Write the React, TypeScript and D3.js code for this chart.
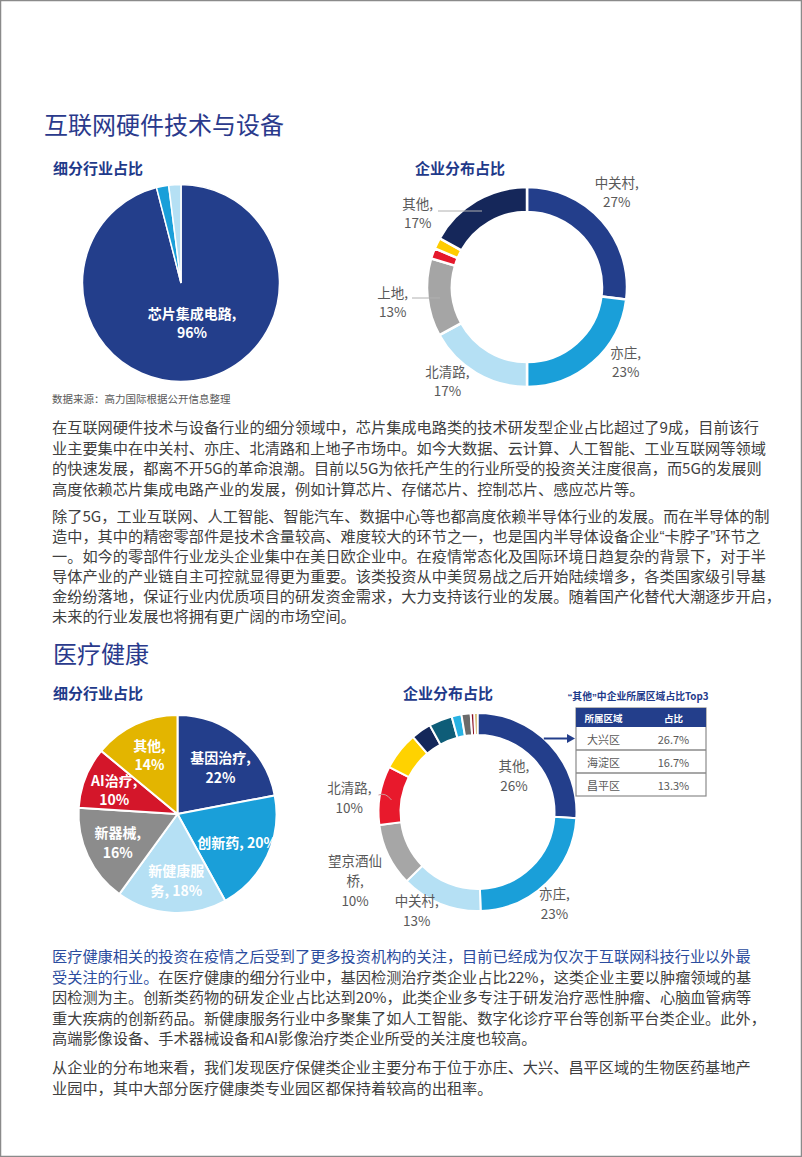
import React, { useEffect, useRef } from 'react';
import * as d3 from 'd3';

const FONT = '"Noto Sans CJK SC", "Noto Sans", sans-serif';
const QUOTE_FONT = '"Liberation Sans", sans-serif';

// 互联网硬件技术与设备 - 细分行业占比
const hwSegNames = ['芯片集成电路', '其他A', '其他B'];
const hwSegValues = [96, 2, 2];
const hwSegPct = ['96%', '', ''];

// 互联网硬件技术与设备 - 企业分布占比
const hwAreaNames = ['中关村', '亦庄', '北清路', '上地', '其他C', '其他D', '其他'];
const hwAreaValues = [27, 23, 17, 12.6, 1.7, 1.8, 16.9];
const hwAreaPct = ['27%', '23%', '17%', '13%', '', '', '17%'];

// 医疗健康 - 细分行业占比
const medSegNames = ['基因治疗', '创新药', '新健康服务', '新器械', 'AI治疗', '其他'];
const medSegValues = [22, 20, 18, 16, 10, 14];
const medSegPct = ['22%', '20%', '18%', '16%', '10%', '14%'];

// 医疗健康 - 企业分布占比
const medAreaNames = ['其他', '亦庄', '中关村', '望京酒仙桥', '北清路', 'a', 'b', 'c', 'd', 'e', 'f', 'g'];
const medAreaValues = [26, 23.5, 13.2, 10.2, 9.6, 6.2, 3.3, 3.8, 1.6, 1.5, 0.6, 0.5];
const medAreaPct = ['26%', '23%', '13%', '10%', '10%', '', '', '', '', '', '', ''];

// "其他"中企业所属区域占比Top3
const top3Header = ['所属区域', '占比'];
const top3Names = ['大兴区', '海淀区', '昌平区'];
const top3Values = ['26.7%', '16.7%', '13.3%'];

const para1 = [
  '在互联网硬件技术与设备行业的细分领域中，芯片集成电路类的技术研发型企业占比超过了9成，目前该行',
  '业主要集中在中关村、亦庄、北清路和上地子市场中。如今大数据、云计算、人工智能、工业互联网等领域',
  '的快速发展，都离不开5G的革命浪潮。目前以5G为依托产生的行业所受的投资关注度很高，而5G的发展则',
  '高度依赖芯片集成电路产业的发展，例如计算芯片、存储芯片、控制芯片、感应芯片等。',
];
const para2 = [
  '除了5G，工业互联网、人工智能、智能汽车、数据中心等也都高度依赖半导体行业的发展。而在半导体的制',
  '造中，其中的精密零部件是技术含量较高、难度较大的环节之一，也是国内半导体设备企业“卡脖子”环节之',
  '一。如今的零部件行业龙头企业集中在美日欧企业中。在疫情常态化及国际环境日趋复杂的背景下，对于半',
  '导体产业的产业链自主可控就显得更为重要。该类投资从中美贸易战之后开始陆续增多，各类国家级引导基',
  '金纷纷落地，保证行业内优质项目的研发资金需求，大力支持该行业的发展。随着国产化替代大潮逐步开启，',
  '未来的行业发展也将拥有更广阔的市场空间。',
];
// [blue part, gray part]
const para3: [string, string][] = [
  ['医疗健康相关的投资在疫情之后受到了更多投资机构的关注，目前已经成为仅次于互联网科技行业以外最', ''],
  ['受关注的行业。', '在医疗健康的细分行业中，基因检测治疗类企业占比22%，这类企业主要以肿瘤领域的基'],
  ['', '因检测为主。创新类药物的研发企业占比达到20%，此类企业多专注于研发治疗恶性肿瘤、心脑血管病等'],
  ['', '重大疾病的创新药品。新健康服务行业中多聚集了如人工智能、数字化诊疗平台等创新平台类企业。此外，'],
  ['', '高端影像设备、手术器械设备和AI影像治疗类企业所受的关注度也较高。'],
];
const para4 = [
  '从企业的分布地来看，我们发现医疗保健类企业主要分布于位于亦庄、大兴、昌平区域的生物医药基地产',
  '业园中，其中大部分医疗健康类专业园区都保持着较高的出租率。',
];

const DARK = '#233e8b';
const MID = '#1a9fd9';
const LIGHT = '#b5e0f4';
const TITLE = '#2a3a8c';
const TEXT = '#404040';
const LABEL = '#595959';
const BODY_SIZE = 15.2;

type G = d3.Selection<SVGGElement, unknown, null, undefined>;
type T = d3.Selection<SVGTextElement, unknown, null, undefined>;

// curly quotes are narrow in the original, so draw them with a latin font
function addRich(t: T, str: string, fill?: string) {
  str.split(/([“”])/).forEach(part => {
    if (!part) return;
    const s = t.append('tspan').text(part);
    if (fill) s.attr('fill', fill);
    if (part === '“' || part === '”') s.attr('font-family', QUOTE_FONT);
  });
}

function drawRing(
  root: G, values: number[], colors: string[], cx: number, cy: number,
  inner: number, outer: number, gap: number,
) {
  const pie = d3.pie<number>().sort(null).value(d => d);
  const arcs = pie(values);
  const arc = d3.arc<d3.PieArcDatum<number>>().innerRadius(inner).outerRadius(outer);
  const g = root.append('g').attr('transform', `translate(${cx},${cy})`);
  g.selectAll('path')
    .data(arcs)
    .join('path')
    .attr('d', d => arc(d) as string)
    .attr('fill', (d, i) => colors[i])
    .attr('stroke', '#fff')
    .attr('stroke-width', gap)
    .attr('stroke-linejoin', 'miter');
  return { g, arcs };
}

function multiLine(
  g: G, lines: string[], x: number, y: number, lh: number,
  size: number, fill: string, weight: number,
) {
  const t = g.append('text')
    .attr('font-family', FONT)
    .attr('font-size', size)
    .attr('font-weight', weight)
    .attr('fill', fill)
    .attr('text-anchor', 'middle')
    .attr('dominant-baseline', 'central');
  const y0 = y - ((lines.length - 1) * lh) / 2;
  lines.forEach((l, i) => {
    t.append('tspan').attr('x', x).attr('y', y0 + i * lh).text(l);
  });
}

function ringLabels(
  g: G, arcs: d3.PieArcDatum<number>[], names: string[], pct: string[],
  r: number, nudge: ([number, number] | null)[], wraps: Record<string, string[]>,
  size: number, lh: number, fill: string, weight: number,
) {
  const la = d3.arc<d3.PieArcDatum<number>>().innerRadius(r).outerRadius(r);
  arcs.forEach((a, i) => {
    const n = nudge[i];
    if (!pct[i] || !n) return;
    const [x, y] = la.centroid(a);
    const lines = wraps[names[i]] || [names[i] + ',', pct[i]];
    multiLine(g, lines, x + n[0], y + n[1], lh, size, fill, weight);
  });
}

function paragraph(svg: G, lines: string[], x: number, y: number, lh: number) {
  lines.forEach((l, i) => {
    const t = svg.append('text')
      .attr('x', x)
      .attr('y', y + i * lh)
      .attr('font-family', FONT)
      .attr('font-size', BODY_SIZE)
      .attr('fill', TEXT)
      .attr('dominant-baseline', 'central') as unknown as T;
    addRich(t, l);
  });
}

function heading(svg: G, txt: string, x: number, y: number, size: number, weight: number, fill: string) {
  svg.append('text')
    .attr('x', x)
    .attr('y', y)
    .attr('font-family', FONT)
    .attr('font-size', size)
    .attr('font-weight', weight)
    .attr('fill', fill)
    .attr('dominant-baseline', 'central')
    .text(txt);
}

export default function App() {
  const ref = useRef<SVGSVGElement>(null);

  useEffect(() => {
    const root = d3.select(ref.current);
    root.selectAll('*').remove();
    const svg = root.append('g') as unknown as G;

    svg.append('rect')
      .attr('x', 0.5).attr('y', 0.5)
      .attr('width', 801).attr('height', 1156)
      .attr('fill', '#fff')
      .attr('stroke', '#8a8a8a')
      .attr('stroke-width', 1.5);

    // ---- section 1
    heading(svg, '互联网硬件技术与设备', 44, 123, 24, 400, TITLE);
    heading(svg, '细分行业占比', 53, 167, 15, 700, '#1f3a8a');
    heading(svg, '企业分布占比', 415, 167, 15, 700, '#1f3a8a');

    const p1 = drawRing(svg, hwSegValues, [DARK, MID, LIGHT], 181, 283, 0, 98.5, 1.5);
    ringLabels(p1.g, p1.arcs, hwSegNames, hwSegPct, 40, [[6, 0], null, null], {},
      14, 19, '#fff', 700);

    heading(svg, '数据来源：高力国际根据公开信息整理', 52, 398, 10.5, 400, LABEL);

    const d1 = drawRing(svg, hwAreaValues,
      [DARK, MID, LIGHT, '#a5a5a5', '#e5192c', '#ffcc00', '#15275a'],
      527, 287, 75, 100, 2.5);
    // leader lines for 其他 and 上地
    d1.g.append('line').attr('x1', -89).attr('y1', -76).attr('x2', -45).attr('y2', -76)
      .attr('stroke', '#b0b0b0').attr('stroke-width', 1);
    d1.g.append('line').attr('x1', -115).attr('y1', 11).attr('x2', -87).attr('y2', 11)
      .attr('stroke', '#b0b0b0').attr('stroke-width', 1);
    ringLabels(d1.g, d1.arcs, hwAreaNames, hwAreaPct, 125,
      [[-4, -13], [16, -19], [-16, -14], [-10, 1], null, null, [-46, 33]], {},
      13.5, 19, LABEL, 400);

    // text block 1
    paragraph(svg, para1, 52, 426, 20.5);
    paragraph(svg, para2, 52, 514.5, 20);

    // ---- section 2
    heading(svg, '医疗健康', 53, 652, 24, 400, TITLE);
    heading(svg, '细分行业占比', 53, 692, 15, 700, '#1f3a8a');
    heading(svg, '企业分布占比', 403, 692, 15, 700, '#1f3a8a');

    const p2 = drawRing(svg, medSegValues,
      [DARK, MID, LIGHT, '#8c8c8c', '#d4162a', '#e3b500'], 177.5, 814, 0, 99, 2);
    ringLabels(p2.g, p2.arcs, medSegNames, medSegPct, 66,
      [[1, 4], [0, 0], [3, 0], [0, 0], [-2, 0], [0, 0]],
      { '创新药': ['创新药, 20%'], '新健康服务': ['新健康服', '务, 18%'] },
      14, 19.5, '#fff', 700);

    const d2 = drawRing(svg, medAreaValues,
      [DARK, MID, LIGHT, '#a6a6a6', '#e8192c', '#ffd200', '#14275a', '#0e5d78',
        '#27b2e3', '#6b6b6b', '#8c1022', '#b88a10'],
      477.5, 812, 77, 99, 2);
    // 其他 label sits inside the hole
    ringLabels(d2.g, d2.arcs, medAreaNames, medAreaPct, 50, [[0, -3]], {}, 13.5, 20, LABEL, 400);
    ringLabels(d2.g, d2.arcs, medAreaNames, medAreaPct, 125,
      [null, [-10, 1], [-14, -18], [-10, 13], [-5, 6]],
      { '望京酒仙桥': ['望京酒仙', '桥,', '10%'] },
      13.5, 20, LABEL, 400);
    d2.g.append('path').attr('d', 'M-99,-17 Q-92,-20 -86,-12')
      .attr('fill', 'none').attr('stroke', '#c99').attr('stroke-width', 1);

    // top3 table
    const tx = 576;
    const tw = 130;
    const hy = 708;
    const hh = 19;
    const rh = 23;
    const col = d3.scaleBand<number>().domain([0, 1]).range([tx, tx + tw]);
    const rowY = d3.scaleBand<number>().domain(top3Names.map((d, i) => i)).range([hy + hh, hy + hh + rh * 3]);

    const tt = svg.append('text')
      .attr('x', tx + tw / 2 - 3).attr('y', 696)
      .attr('text-anchor', 'middle').attr('dominant-baseline', 'central')
      .attr('font-family', FONT).attr('font-size', 9.8).attr('font-weight', 700)
      .attr('fill', '#1f3a8a') as unknown as T;
    addRich(tt, '“其他”中企业所属区域占比Top3');

    svg.append('rect').attr('x', tx).attr('y', hy).attr('width', tw).attr('height', hh + rh * 3)
      .attr('fill', '#fff').attr('stroke', '#8a8a8a').attr('stroke-width', 1.2);
    svg.append('rect').attr('x', tx).attr('y', hy).attr('width', tw).attr('height', hh).attr('fill', DARK);
    top3Header.forEach((h, i) => {
      svg.append('text')
        .attr('x', (col(i) as number) + col.bandwidth() / 2 + (i === 0 ? -5 : 0))
        .attr('y', hy + hh / 2)
        .attr('text-anchor', 'middle').attr('dominant-baseline', 'central')
        .attr('font-family', FONT).attr('font-size', 9.5).attr('font-weight', 700)
        .attr('fill', '#fff').text(h);
    });
    top3Names.forEach((n, i) => {
      const y = rowY(i) as number;
      if (i > 0) {
        svg.append('line').attr('x1', tx).attr('x2', tx + tw).attr('y1', y).attr('y2', y)
          .attr('stroke', '#8a8a8a').attr('stroke-width', 1.5);
      }
      [n, top3Values[i]].forEach((v, j) => {
        svg.append('text')
          .attr('x', (col(j) as number) + col.bandwidth() / 2 + (j === 0 ? -5 : 0))
          .attr('y', y + rh / 2)
          .attr('text-anchor', 'middle').attr('dominant-baseline', 'central')
          .attr('font-family', FONT).attr('font-size', 11).attr('fill', LABEL).text(v);
      });
    });

    // arrow from 其他 slice to table
    const ay = (rowY(0) as number) + rh / 2 - 812;
    const ax = Math.sqrt(99 * 99 - ay * ay);
    d2.g.append('line').attr('x1', ax).attr('y1', ay).attr('x2', tx - 477.5 - 7).attr('y2', ay)
      .attr('stroke', DARK).attr('stroke-width', 2);
    d2.g.append('path')
      .attr('d', `M${tx - 477.5 - 1},${ay} l-8,-4.5 l0,9 z`)
      .attr('fill', DARK);

    // text block 2
    para3.forEach(([b, r], i) => {
      const t = svg.append('text')
        .attr('x', 52).attr('y', 955 + i * 20.5)
        .attr('font-family', FONT).attr('font-size', BODY_SIZE)
        .attr('dominant-baseline', 'central') as unknown as T;
      if (b) addRich(t, b, '#2b4c9e');
      if (r) addRich(t, r, TEXT);
    });
    paragraph(svg, para4, 52, 1066, 20.5);
  }, []);

  return (
    <div style={{ position: 'absolute', left: 0, top: 0 }}>
      <svg ref={ref} width={802} height={1157} style={{ display: 'block' }} />
    </div>
  );
}
